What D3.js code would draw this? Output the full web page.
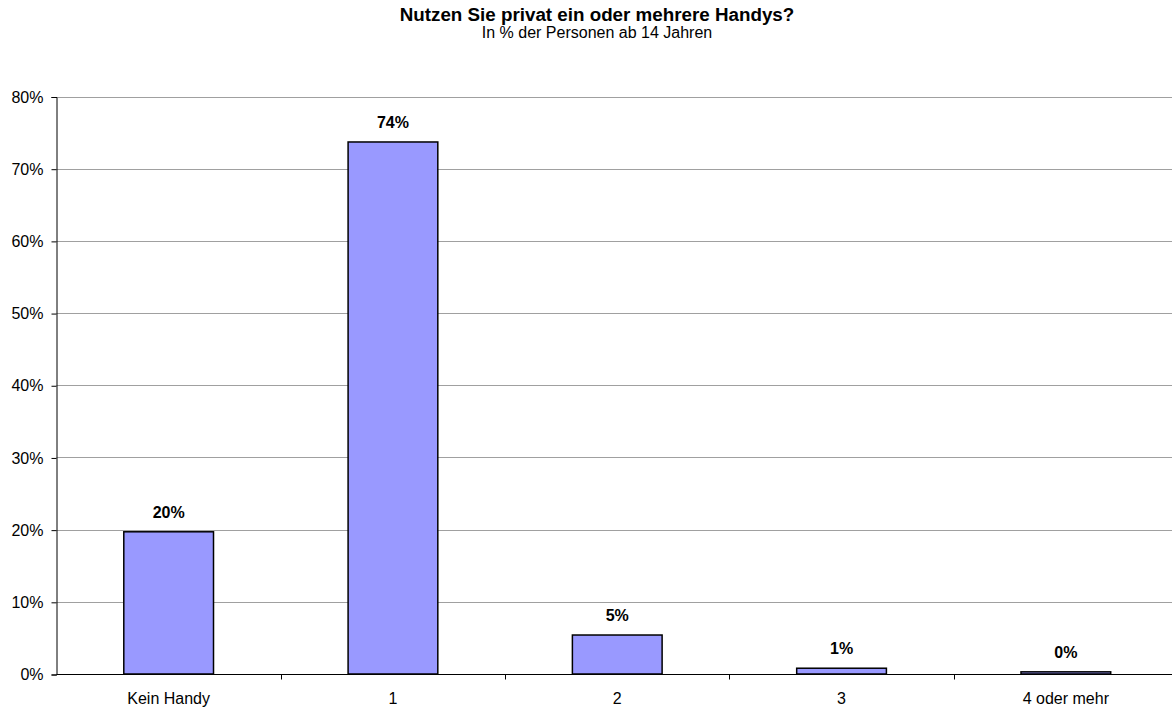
<!DOCTYPE html>
<html>
<head>
<meta charset="utf-8">
<script src="https://cdn.jsdelivr.net/npm/d3@7"></script>
<style>
  html, body { margin: 0; padding: 0; background: #fff; overflow: hidden; }
  svg { display: block; font-family: "Liberation Sans", Arial, sans-serif; }
</style>
</head>
<body>
<svg id="chart" width="1172" height="707"></svg>
<script>
// Anzahl privat genutzter Handys, in % der Personen ab 14 Jahren
const categories = ["Kein Handy", "1", "2", "3", "4 oder mehr"];
const values = [19.7, 73.7, 5.4, 0.8, 0.3];
const valueLabels = ["20%", "74%", "5%", "1%", "0%"];
const yTicks = [0, 10, 20, 30, 40, 50, 60, 70, 80];

const svg = d3.select("#chart");
// Die Zeichenfläche reicht rechts etwas über den Bildrand hinaus
const plotLeft = 56.5, plotRight = 1178, plotTop = 96.5, plotBottom = 674;

const x = d3.scaleBand().domain(categories).range([plotLeft, plotRight]).padding(0);
const y = d3.scaleLinear().domain([0, 80]).range([plotBottom, plotTop]);

// Titel
svg.append("text").attr("x", 597).attr("y", 21).attr("text-anchor", "middle")
  .attr("font-size", 18.8).attr("font-weight", "bold").text("Nutzen Sie privat ein oder mehrere Handys?");
svg.append("text").attr("x", 597).attr("y", 38).attr("text-anchor", "middle")
  .attr("font-size", 16).text("In % der Personen ab 14 Jahren");

// Gitterlinien
svg.append("g").selectAll("line").data(yTicks.filter(d => d > 0)).join("line")
  .attr("x1", plotLeft).attr("x2", plotRight)
  .attr("y1", d => Math.round(y(d)) + 0.5).attr("y2", d => Math.round(y(d)) + 0.5)
  .attr("stroke", "#a0a0a0").attr("stroke-width", 1);

// Y-Achse
const yAxis = d3.axisLeft(y).tickValues(yTicks).tickFormat(d => d + "%").tickSize(5).tickPadding(8);
const gy = svg.append("g").attr("transform", `translate(${plotLeft},0.5)`).call(yAxis);
gy.select(".domain").attr("stroke", "#000");
gy.selectAll(".tick line").attr("stroke", "#000");
gy.selectAll("text").attr("font-size", 16).attr("fill", "#000").attr("font-family", "Liberation Sans, Arial, sans-serif");

// Balken
svg.append("g").selectAll("rect").data(values).join("rect")
  .attr("x", (d, i) => x(categories[i]) + x.bandwidth() * 0.3)
  .attr("width", x.bandwidth() * 0.4)
  .attr("y", d => y(d))
  .attr("height", d => plotBottom - y(d))
  .attr("fill", "#9999ff").attr("stroke", "#000").attr("stroke-width", 1.5);

// X-Achse
const gx = svg.append("g").attr("transform", `translate(0,${plotBottom + 0.5})`);
gx.append("line").attr("x1", plotLeft).attr("x2", plotRight).attr("stroke", "#000");
gx.selectAll("line.tick").data(d3.range(1, categories.length)).join("line")
  .attr("class", "tick")
  .attr("x1", i => Math.round(plotLeft + i * x.bandwidth()) + 0.5)
  .attr("x2", i => Math.round(plotLeft + i * x.bandwidth()) + 0.5)
  .attr("y1", 0).attr("y2", 5).attr("stroke", "#000");
gx.selectAll("text").data(categories).join("text")
  .attr("x", d => x(d) + x.bandwidth() / 2).attr("y", 29.5)
  .attr("text-anchor", "middle").attr("font-size", 16).text(d => d);

// Wertbeschriftungen
svg.append("g").selectAll("text").data(values).join("text")
  .attr("x", (d, i) => x(categories[i]) + x.bandwidth() / 2)
  .attr("y", d => y(d) - 14)
  .attr("text-anchor", "middle").attr("font-size", 16).attr("font-weight", "bold")
  .text((d, i) => valueLabels[i]);
</script>
</body>
</html>
